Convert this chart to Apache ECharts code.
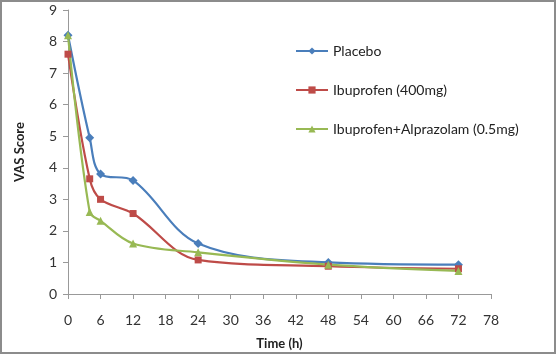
<!DOCTYPE html>
<html>
<head>
<meta charset="utf-8">
<script src="https://cdn.jsdelivr.net/npm/echarts@6/dist/echarts.min.js"></script>
<style>
  html, body { margin: 0; padding: 0; background: #fff; }
  #chart { width: 556px; height: 354px; box-sizing: border-box; border: 2px solid #8c8c8c; }
</style>
</head>
<body>
<div id="chart"></div>
<script>
// time points (h)
const hours = [0, 4, 6, 12, 24, 48, 72]
const placebo = [8.2, 4.95, 3.8, 3.6, 1.6, 1.0, 0.93]
const ibuprofen = [7.6, 3.65, 3.0, 2.55, 1.08, 0.88, 0.8]
const ibuAlprazolam = [8.2, 2.6, 2.32, 1.6, 1.32, 0.93, 0.73]
const legendNames = ['Placebo', 'Ibuprofen (400mg)', 'Ibuprofen+Alprazolam (0.5mg)']

const font = 'Lato, "Open Sans", sans-serif'

function pairs(values) {
  return hours.map((h, i) => [h, values[i]])
}

function makeSeries(name, values, color, symbol, size) {
  return {
    name: name,
    type: 'line',
    smooth: 0.35,
    data: pairs(values),
    symbol: symbol,
    symbolSize: size,
    lineStyle: { color: color, width: 2.2 },
    itemStyle: { color: color },
    animation: false
  }
}

const chart = echarts.init(document.getElementById('chart'))
chart.setOption({
  grid: { left: 66, right: 63, top: 8, bottom: 58, outerBoundsMode: 'none' },
  legend: {
    orient: 'vertical',
    left: 288,
    top: 37,
    itemGap: 25,
    itemWidth: 32,
    itemHeight: 9,
    textStyle: { fontFamily: font, fontSize: 14, color: '#222' },
    data: legendNames
  },
  xAxis: {
    type: 'value',
    min: 0,
    max: 78,
    interval: 6,
    name: 'Time (h)',
    nameLocation: 'middle',
    nameGap: 43,
    nameTextStyle: { fontFamily: font, fontSize: 13, fontWeight: 'bold', color: '#222' },
    axisLine: { lineStyle: { color: '#999' } },
    axisTick: { show: true, length: 5, lineStyle: { color: '#999' } },
    axisLabel: { fontFamily: font, fontSize: 14, color: '#333', margin: 19 },
    splitLine: { show: false }
  },
  yAxis: {
    type: 'value',
    min: 0,
    max: 9,
    interval: 1,
    name: 'VAS Score',
    nameLocation: 'middle',
    nameGap: 42,
    nameTextStyle: { fontFamily: font, fontSize: 13, fontWeight: 'bold', color: '#222' },
    axisLine: { show: true, lineStyle: { color: '#999' } },
    axisTick: { show: true, length: 5, lineStyle: { color: '#999' } },
    axisLabel: { fontFamily: font, fontSize: 14, color: '#333', margin: 11 },
    splitLine: { show: false }
  },
  series: [
    makeSeries(legendNames[0], placebo, '#4a7ebb', 'diamond', 9),
    makeSeries(legendNames[1], ibuprofen, '#be4b48', 'rect', 7),
    makeSeries(legendNames[2], ibuAlprazolam, '#98b954', 'triangle', 8)
  ]
})
</script>
</body>
</html>
